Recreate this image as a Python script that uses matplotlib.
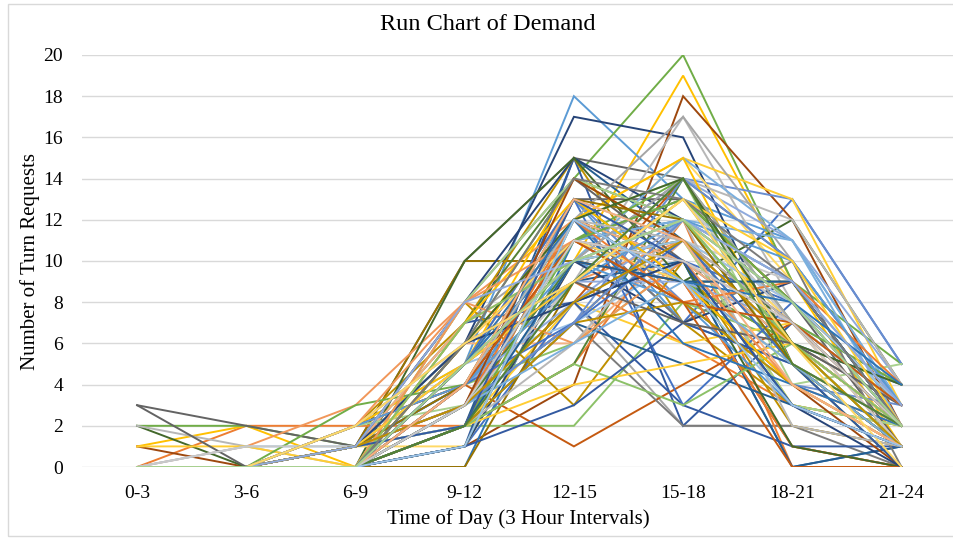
import matplotlib
matplotlib.use("Agg")
import matplotlib.pyplot as plt
from matplotlib.patches import Rectangle

# time-of-day buckets on the x axis
intervals = ["0-3", "3-6", "6-9", "9-12", "12-15", "15-18", "18-21", "21-24"]

# turn requests per interval, one entry per day (same index = same day)
t0_3 = [0, 0, 0, 1, 0, 2, 0, 1, 3, 0,
        0, 2, 0, 0, 2, 1, 0, 0, 0, 0,
        0, 0, 0, 0, 0, 0, 0, 0, 0, 0,
        0, 0, 0, 0, 0, 0, 0, 0, 3, 0,
        0, 0, 0, 0, 0, 0, 0, 0, 0, 0,
        0, 0, 0, 0, 0, 0, 0, 0, 0, 0,
        0, 0, 0, 0, 0, 0, 0, 0, 0, 0,
        0, 0, 0, 0, 0, 0, 0, 0, 0, 0,
        0, 0, 0, 0, 0, 0, 0, 0, 0, 0,
        0, 0, 0, 0, 0, 0, 0, 0, 0, 0,
        0, 0, 0, 0, 0, 0, 0, 0, 0, 0,
        0, 0, 0, 0, 0, 0, 0, 0, 0, 0]
t3_6 = [0, 2, 0, 2, 0, 2, 0, 0, 2, 0,
        0, 0, 0, 1, 1, 1, 0, 0, 0, 0,
        0, 0, 0, 0, 0, 0, 0, 0, 1, 0,
        0, 0, 0, 0, 0, 0, 0, 0, 0, 0,
        0, 0, 0, 0, 0, 0, 0, 0, 0, 0,
        0, 0, 0, 0, 0, 0, 1, 0, 0, 0,
        0, 0, 0, 0, 0, 0, 0, 0, 0, 0,
        0, 0, 0, 0, 0, 0, 0, 0, 0, 0,
        0, 0, 0, 0, 0, 0, 0, 0, 0, 0,
        0, 0, 0, 0, 0, 0, 0, 0, 0, 0,
        0, 0, 0, 0, 0, 0, 0, 0, 0, 0,
        0, 0, 0, 0, 0, 0, 0, 0, 0, 0]
t6_9 = [0, 2, 1, 0, 1, 1, 0, 0, 1, 1,
        0, 0, 0, 3, 0, 0, 2, 0, 0, 0,
        0, 2, 0, 1, 0, 1, 0, 0, 1, 0,
        0, 2, 1, 2, 1, 3, 1, 2, 0, 0,
        1, 0, 1, 2, 0, 1, 0, 0, 0, 1,
        0, 0, 1, 0, 2, 1, 1, 1, 0, 2,
        0, 0, 1, 0, 1, 0, 0, 0, 1, 0,
        0, 0, 0, 2, 1, 0, 0, 1, 0, 0,
        0, 0, 1, 0, 0, 1, 0, 0, 1, 0,
        0, 1, 0, 0, 2, 0, 1, 0, 0, 1,
        0, 0, 1, 0, 0, 1, 0, 0, 1, 0,
        0, 1, 0, 0, 1, 0, 0, 2, 0, 0]
t9_12 = [4, 4, 3, 3, 5, 6, 6, 1, 10, 10,
         2, 2, 5, 8, 3, 4, 5, 2, 1, 4,
         3, 7, 0, 7, 2, 6, 3, 1, 6, 2,
         1, 2, 7, 5, 3, 4, 8, 4, 5, 3,
         6, 10, 4, 6, 4, 2, 3, 4, 7, 3,
         2, 8, 5, 2, 6, 7, 5, 1, 5, 3,
         5, 2, 6, 6, 4, 3, 1, 5, 8, 0,
         2, 1, 3, 8, 2, 2, 3, 2, 1, 6,
         3, 2, 4, 3, 4, 5, 3, 6, 2, 8,
         4, 3, 5, 7, 4, 2, 6, 3, 5, 4,
         2, 6, 3, 8, 4, 5, 3, 7, 2, 4,
         6, 3, 5, 2, 8, 4, 3, 6, 1, 5]
t12_15 = [12, 9, 8, 10, 18, 14, 17, 4, 15, 10,
          15, 13, 10, 12, 9, 12, 11, 2, 15, 1,
          7, 15, 11, 14, 9, 6, 10, 10, 12, 12,
          8, 5, 11, 14, 13, 12, 15, 11, 13, 7,
          9, 15, 13, 9, 9, 8, 10, 6, 8, 8,
          12, 3, 11, 5, 9, 10, 13, 10, 7, 8,
          13, 12, 12, 12, 10, 11, 10, 10, 14, 9,
          7, 12, 7, 6, 6, 4, 11, 5, 3, 11,
          11, 7, 12, 10, 8, 12, 9, 11, 10, 14,
          7, 12, 10, 13, 9, 11, 8, 14, 9, 13,
          10, 12, 7, 11, 12, 9, 6, 10, 13, 11,
          14, 8, 12, 9, 10, 13, 11, 9, 12, 10]
t15_18 = [7, 6, 2, 19, 13, 20, 16, 18, 14, 9,
          11, 9, 14, 10, 17, 15, 8, 8, 2, 4,
          2, 7, 10, 12, 14, 11, 12, 15, 9, 14,
          10, 12, 13, 11, 7, 9, 12, 9, 13, 12,
          10, 9, 8, 11, 14, 6, 15, 10, 3, 14,
          7, 10, 12, 14, 9, 11, 11, 12, 10, 11,
          3, 9, 17, 15, 8, 14, 7, 9, 10, 13,
          5, 10, 14, 10, 12, 5, 12, 3, 7, 8,
          13, 8, 6, 11, 12, 10, 13, 9, 11, 12,
          11, 8, 14, 9, 12, 13, 10, 11, 7, 12,
          9, 14, 12, 10, 11, 13, 9, 12, 10, 8,
          13, 11, 9, 14, 12, 11, 10, 13, 9, 12]
t18_21 = [13, 3, 2, 9, 11, 9, 5, 12, 10, 6,
          6, 12, 13, 4, 8, 13, 4, 6, 7, 7,
          2, 3, 0, 5, 11, 6, 7, 9, 5, 4,
          8, 0, 7, 3, 5, 6, 6, 1, 8, 8,
          0, 9, 4, 6, 12, 7, 11, 3, 1, 6,
          10, 2, 9, 6, 7, 8, 9, 7, 6, 3,
          8, 1, 10, 5, 3, 7, 9, 4, 6, 8,
          3, 1, 10, 7, 2, 6, 11, 6, 5, 0,
          6, 4, 4, 5, 9, 6, 7, 5, 8, 6,
          5, 9, 7, 4, 10, 8, 3, 7, 6, 5,
          9, 6, 8, 4, 7, 10, 5, 6, 3, 7,
          9, 6, 8, 5, 9, 4, 7, 6, 3, 8]
t21_24 = [5, 2, 1, 1, 3, 5, 1, 2, 3, 2,
          4, 4, 5, 2, 2, 3, 1, 2, 3, 2,
          0, 1, 1, 0, 4, 3, 2, 2, 2, 5,
          3, 0, 4, 2, 1, 1, 2, 0, 1, 3,
          1, 2, 3, 2, 4, 3, 3, 2, 1, 1,
          0, 1, 2, 2, 3, 2, 3, 1, 2, 2,
          2, 0, 3, 2, 1, 4, 2, 0, 1, 3,
          1, 0, 3, 1, 1, 2, 2, 1, 0, 0,
          3, 1, 2, 1, 3, 2, 1, 2, 3, 1,
          2, 4, 2, 1, 3, 2, 0, 2, 3, 1,
          2, 4, 2, 1, 3, 2, 1, 2, 1, 3,
          2, 1, 4, 2, 3, 1, 2, 0, 1, 2]

columns = [t0_3, t3_6, t6_9, t9_12, t12_15, t15_18, t18_21, t21_24]

# office-style series colour cycle
palette = ['#4472C4', '#ED7D31', '#A5A5A5', '#FFC000', '#5B9BD5', '#70AD47',
           '#264478', '#9E480E', '#636363', '#997300', '#255E91', '#43682B',
           '#698ED0', '#F1975A', '#B7B7B7', '#FFCD33', '#7CAFDD', '#8CC168',
           '#335AA1', '#C55A11', '#7B7B7B', '#BF9000', '#2E75B6', '#548235',
           '#8FAADC', '#F4B183', '#C9C9C9', '#FFD966', '#9DC3E6', '#A9D18E']

plt.rcParams['font.family'] = ['Liberation Serif', 'DejaVu Serif']

W, H = 954, 538
fig = plt.figure(figsize=(W / 100, H / 100), dpi=100)

# light chart-area border
fig.patches.append(Rectangle((8 / W, 2 / H), 1.0, 1 - 6 / H, transform=fig.transFigure,
                             fill=False, edgecolor='#D9D9D9', linewidth=1.0))

ax = fig.add_axes([82.5 / W, (H - 467) / H, 873.6 / W, 412 / H])
x = list(range(len(intervals)))
n_days = len(t0_3)
for i in range(n_days):
    ys = [col[i] for col in columns]
    ax.plot(x, ys, color=palette[i % len(palette)], lw=1.4, solid_joinstyle='miter')

ax.set_xlim(-0.5, len(intervals) - 0.5)
ax.set_ylim(0, 20)
ax.set_yticks(range(0, 21, 2))
ax.set_xticks(x)
ax.set_xticklabels(intervals)
ax.tick_params(axis='both', length=0, labelsize=14, colors='#000000')
ax.tick_params(axis='y', pad=14)
ax.tick_params(axis='x', pad=13)
ax.grid(axis='y', color='#D9D9D9', lw=1.0)
ax.set_axisbelow(True)
for s in ax.spines.values():
    s.set_visible(False)
ax.set_facecolor('none')

fig.text(487.5 / W, 1 - 25 / H, 'Run Chart of Demand', ha='center', va='center', fontsize=17.5)
fig.text(518 / W, 1 - 519 / H, 'Time of Day (3 Hour Intervals)', ha='center', va='center',
         fontsize=15)
fig.text(30 / W, 1 - 261 / H, 'Number of Turn Requests', ha='center', va='center',
         rotation=90, fontsize=15)

fig.savefig('out.png', dpi=100)
